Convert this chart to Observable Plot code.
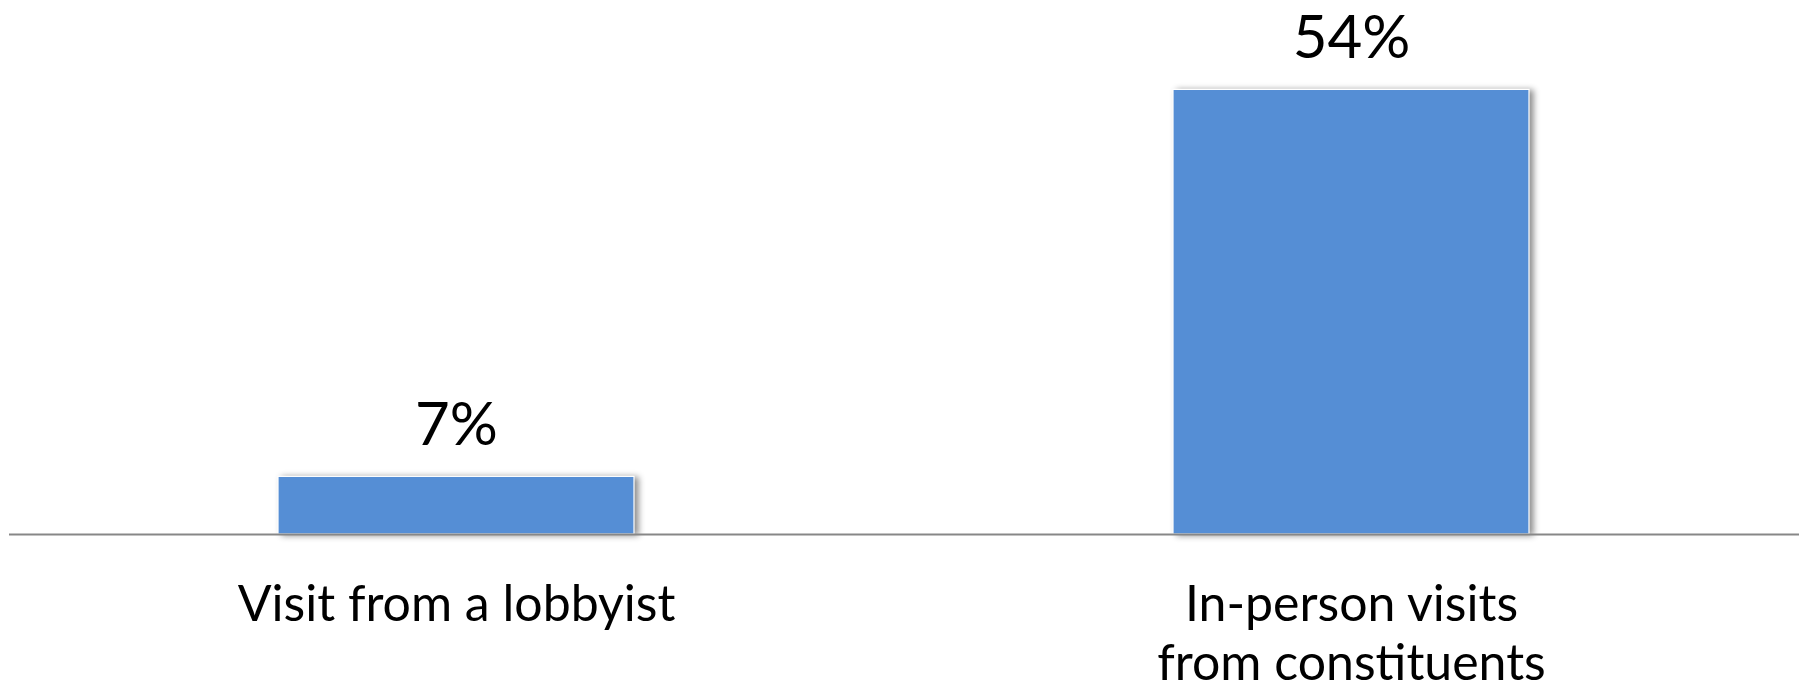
<!DOCTYPE html>
<html>
<head>
<meta charset="utf-8">
<script src="https://cdn.jsdelivr.net/npm/d3@7"></script>
<script src="https://cdn.jsdelivr.net/npm/@observablehq/plot@0.6"></script>
<style>
  html, body { margin: 0; padding: 0; background: #fff; }
  #chart svg { display: block; }
  .bars rect { filter: drop-shadow(4px 1px 3px rgba(0,0,0,0.45)); }
</style>
</head>
<body>
<div id="chart"></div>
<script>
const categories = ["Visit from a lobbyist", "In-person visits\nfrom constituents"];
const values = [7, 54];
const valueLabels = ["7%", "54%"];

const data = categories.map((c, i) => ({category: c, value: values[i], label: valueLabels[i]}));

const chart = Plot.plot({
  width: 1807,
  height: 692,
  marginLeft: 9,
  marginRight: 8,
  marginTop: 40,
  marginBottom: 158,
  style: {fontFamily: "Lato, 'Open Sans', sans-serif", color: "#000", background: "#fff"},
  x: {domain: categories, paddingInner: 0.602, paddingOuter: 0.301},
  y: {domain: [0, 60], axis: null},
  marks: [
    Plot.barY(data, {x: "category", y: "value", fill: "#558ed5", stroke: "#ffffff", strokeWidth: 1.2, className: "bars"}),
    Plot.ruleY([0], {stroke: "#878787", strokeWidth: 2}),
    Plot.text(data, {x: "category", y: "value", text: "label", lineAnchor: "bottom", dy: -32, fontSize: 60, fill: "#000"}),
    Plot.axisX({tickSize: 0, tickPadding: 44, fontSize: 50, lineHeight: 1.19, label: null, fill: "#000"})
  ]
});
document.getElementById("chart").appendChild(chart);
</script>
</body>
</html>
